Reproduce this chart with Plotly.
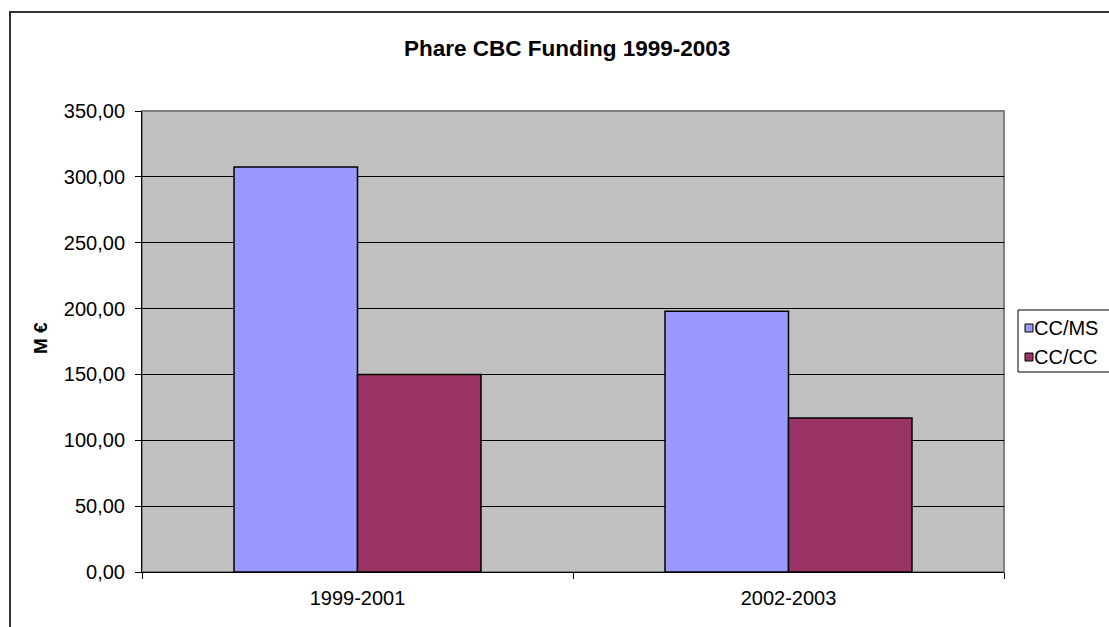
import plotly.graph_objects as go

periods = ["1999-2001", "2002-2003"]
series_names = ["CC/MS", "CC/CC"]
cc_ms = [307.5, 198.0]
cc_cc = [150.0, 117.0]
y_ticks = [0, 50, 100, 150, 200, 250, 300, 350]
colors = ["#9999FF", "#993366"]

fig = go.Figure()
for name, vals, col in zip(series_names, [cc_ms, cc_cc], colors):
    fig.add_trace(go.Bar(
        x=periods, y=vals, name=name,
        marker=dict(color=col, line=dict(color="black", width=1.5)),
    ))

L, R, T, B = 142, 105, 111, 55
W, H = 1109, 627
pw = W - L - R
ph = H - T - B

def px_x(px):
    return (px - L) / pw

def px_y(py):
    return (H - B - py) / ph

shapes = [
    dict(type="rect", xref="paper", yref="paper", x0=0, x1=1, y0=0, y1=1,
         line=dict(color="#808080", width=2), layer="below"),
    dict(type="rect", xref="paper", yref="paper",
         x0=px_x(10), x1=px_x(1140), y0=px_y(12), y1=px_y(660),
         line=dict(color="#333333", width=2), layer="above"),
    # legend box
    dict(type="rect", xref="paper", yref="paper",
         x0=px_x(1018), x1=px_x(1130), y0=px_y(310), y1=px_y(372),
         line=dict(color="black", width=1), fillcolor="white", layer="above"),
]
annotations = [
    dict(text="<b>Phare CBC Funding 1999-2003</b>", xref="paper", yref="paper",
         x=px_x(567), y=px_y(49), xanchor="center", yanchor="middle",
         showarrow=False, font=dict(size=22.5)),
    dict(text="<b>M €</b>", xref="paper", yref="paper",
         x=px_x(40), y=px_y(338), xanchor="center", yanchor="middle",
         textangle=-90, showarrow=False, font=dict(size=19)),
]
row_y = [328, 357]
for name, col, ry in zip(series_names, colors, row_y):
    shapes.append(dict(type="rect", xref="paper", yref="paper",
                       x0=px_x(1025), x1=px_x(1033), y0=px_y(ry - 4), y1=px_y(ry + 4),
                       line=dict(color="black", width=1), fillcolor=col, layer="above"))
    annotations.append(dict(text=name, xref="paper", yref="paper",
                            x=px_x(1034), y=px_y(ry), xanchor="left", yanchor="middle",
                            showarrow=False, font=dict(size=20), xshift=-2))

fig.update_layout(
    width=W, height=H,
    margin=dict(l=L, r=R, t=T, b=B, autoexpand=False),
    paper_bgcolor="white",
    plot_bgcolor="#C0C0C0",
    barmode="group",
    bargap=0.427,
    bargroupgap=0,
    separators=", ",
    font=dict(family="Liberation Sans, Arial, sans-serif", size=20, color="black"),
    showlegend=False,
    xaxis=dict(
        type="category", showgrid=False, ticks="outside", tickson="boundaries",
        ticklen=6, tickcolor="black", showline=True, linecolor="black", linewidth=1,
        tickfont=dict(size=20), ticklabelstandoff=8,
    ),
    yaxis=dict(
        range=[0, 350], tickvals=y_ticks, tickformat=".2f",
        showgrid=True, gridcolor="black", gridwidth=1,
        ticks="outside", ticklen=6, tickcolor="black",
        showline=True, linecolor="black", linewidth=1,
        tickfont=dict(size=20), ticklabelstandoff=6, zeroline=False,
    ),
    shapes=shapes,
    annotations=annotations,
)

fig.write_html("out.html")
